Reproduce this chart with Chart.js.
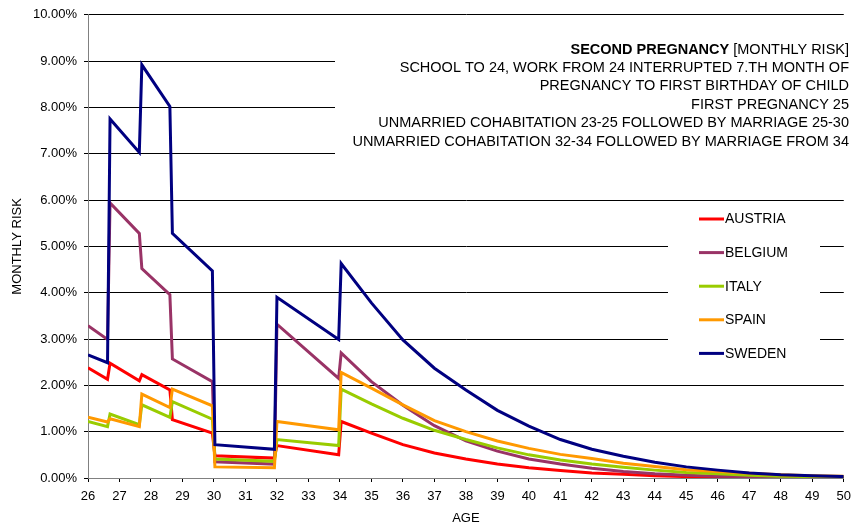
<!DOCTYPE html>
<html>
<head>
<meta charset="utf-8">
<title>Second pregnancy - monthly risk</title>
<script src="https://cdn.jsdelivr.net/npm/chart.js@4.4.1/dist/chart.umd.min.js"></script>
<style>
 body{margin:0;background:#fff;}
 #wrap{width:858px;height:530px;}
</style>
</head>
<body>
<div id="wrap"><canvas id="mychart" width="858" height="530"></canvas></div>
<script>

// ages (years) where the readings were taken, pairs close together are the jumps
var ages = [26, 26.62, 26.7, 27.63, 27.71, 28.6, 28.68, 29.95, 30.03, 31.92, 32.0, 33.96, 34.04,
	35, 36, 37, 38, 39, 40, 41, 42, 43, 44, 45, 46, 47, 48, 49, 50]

// monthly risk in %
var austria = [2.38, 2.13, 2.48, 2.10, 2.23, 1.90, 1.26, 0.97, 0.48, 0.43, 0.70, 0.50, 1.22,
	0.97, 0.72, 0.54, 0.41, 0.30, 0.22, 0.16, 0.11, 0.08, 0.05, 0.03, 0.02, 0.01, 0.01, 0.01, 0.00]
var belgium = [3.29, 2.99, 5.94, 5.28, 4.52, 3.96, 2.57, 2.08, 0.35, 0.30, 3.32, 2.15, 2.70,
	2.08, 1.57, 1.13, 0.80, 0.58, 0.41, 0.30, 0.21, 0.14, 0.09, 0.06, 0.04, 0.03, 0.02, 0.01, 0.01]
var italy = [1.22, 1.11, 1.38, 1.15, 1.58, 1.31, 1.65, 1.27, 0.41, 0.36, 0.83, 0.70, 1.92,
	1.60, 1.29, 1.03, 0.83, 0.65, 0.50, 0.39, 0.30, 0.23, 0.17, 0.12, 0.09, 0.06, 0.04, 0.03, 0.02]
var spain = [1.31, 1.21, 1.28, 1.11, 1.81, 1.52, 1.92, 1.56, 0.24, 0.22, 1.22, 1.04, 2.28,
	1.94, 1.58, 1.24, 1.00, 0.80, 0.64, 0.51, 0.42, 0.32, 0.25, 0.18, 0.14, 0.10, 0.07, 0.05, 0.04]
var sweden = [2.66, 2.49, 7.75, 7.03, 8.92, 8.02, 5.28, 4.47, 0.72, 0.62, 3.90, 2.99, 4.63,
	3.78, 2.98, 2.37, 1.90, 1.46, 1.12, 0.83, 0.62, 0.47, 0.34, 0.24, 0.17, 0.11, 0.07, 0.05, 0.03]

var countries = ["AUSTRIA", "BELGIUM", "ITALY", "SPAIN", "SWEDEN"]
var colors = ["#FF0000", "#993366", "#99CC00", "#FF9900", "#000080"]

var titleBold = "SECOND PREGNANCY"
var titleRest = " [MONTHLY RISK]"
var subLines = [
	"SCHOOL TO 24, WORK FROM 24 INTERRUPTED 7.TH MONTH OF",
	"PREGNANCY TO FIRST BIRTHDAY OF CHILD",
	"FIRST PREGNANCY 25",
	"UNMARRIED COHABITATION 23-25 FOLLOWED BY MARRIAGE 25-30",
	"UNMARRIED COHABITATION 32-34 FOLLOWED BY MARRIAGE FROM 34"
]

var FONT = "'Liberation Sans', Arial, sans-serif"

function pts(vals){
	var out = []
	vals.forEach((v, i)=>{
		out.push({x: ages[i], y: v})
	})
	return out
}

var series = [austria, belgium, italy, spain, sweden]
var datasets = []
series.forEach((s, i)=>{
	datasets.push({
		label: countries[i],
		data: pts(s),
		borderColor: colors[i],
		backgroundColor: colors[i],
		borderWidth: 3,
		pointRadius: 0,
		tension: 0,
		fill: false,
		order: series.length - i   // later series on top, like the original
	})
})

// white boxes with the text block and the legend
var boxes = {
	id: "boxes",
	afterDatasetsDraw(chart){
		var ctx = chart.ctx
		ctx.save()
		ctx.fillStyle = "#fff"
		ctx.fillRect(335, 22, 520, 138)
		ctx.fillRect(668, 203, 152, 170)

		// text block
		ctx.fillStyle = "#000"
		ctx.textAlign = "right"
		ctx.textBaseline = "alphabetic"
		var right = 849
		ctx.font = "14.5px " + FONT
		var w = ctx.measureText(titleRest).width
		ctx.fillText(titleRest, right, 53.5)
		ctx.font = "bold 14.5px " + FONT
		ctx.fillText(titleBold, right - w, 53.5)
		ctx.font = "14.5px " + FONT
		subLines.forEach((t, i)=>{
			ctx.fillText(t, right, 72 + i * 18.4)
		})

		// legend
		ctx.font = "14px " + FONT
		ctx.textAlign = "left"
		ctx.textBaseline = "middle"
		chart.data.datasets.forEach((d, i)=>{
			var y = 219 + i * 33.6
			ctx.strokeStyle = d.borderColor
			ctx.lineWidth = 3
			ctx.beginPath()
			ctx.moveTo(699, y)
			ctx.lineTo(724, y)
			ctx.stroke()
			ctx.fillStyle = "#000"
			ctx.fillText(d.label, 725, y + 0.5)
		})
		ctx.restore()
	}
}

var myChart = document.getElementById("mychart").getContext('2d')

var chart = new Chart(myChart, {
	type: 'line',
	data: {datasets: datasets},
	plugins: [boxes],
	options: {
		responsive: false,
		animation: false,
		devicePixelRatio: 1,
		layout: {padding: {top: 14, right: 9, left: 0, bottom: 0}},
		plugins: {
			legend: {display: false},
			tooltip: {enabled: false}
		},
		scales: {
			x: {
				type: 'linear',
				min: 26,
				max: 50,
				ticks: {
					stepSize: 1,
					color: "#000",
					font: {family: FONT, size: 13},
					padding: 7,
					maxRotation: 0,
					autoSkip: false,
					callback: (v)=> v
				},
				grid: {drawOnChartArea: false, tickLength: 4, color: "#000", tickColor: "#000"},
				border: {color: "#808080", width: 1},
				title: {display: true, text: "AGE", color: "#000", font: {family: FONT, size: 13}, padding: {top: 4}},
				afterFit: (s)=>{ s.height = 52 }
			},
			y: {
				min: 0,
				max: 10,
				ticks: {
					stepSize: 1,
					color: "#000",
					font: {family: FONT, size: 13},
					padding: 7,
					callback: (v)=> v.toFixed(2) + "%"
				},
				grid: {color: "#000", tickLength: 4, tickColor: "#000"},
				border: {color: "#808080", width: 1},
				title: {display: true, text: "MONTHLY RISK", color: "#000", font: {family: FONT, size: 13}, padding: {top: 10, bottom: 0}},
				afterFit: (s)=>{ s.width = 88 }
			}
		}
	}
})

</script>
</body>
</html>
